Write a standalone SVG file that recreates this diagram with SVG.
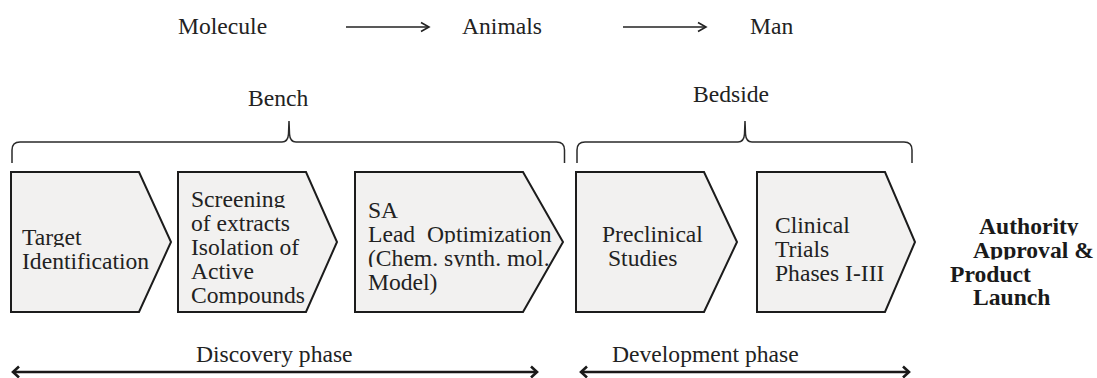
<svg xmlns="http://www.w3.org/2000/svg" width="1097" height="378" viewBox="0 0 1097 378">
<style>
.lbl{font-family:"Liberation Serif","Times New Roman",serif;font-size:23.6px;fill:#222}
.bt{font-family:"Liberation Serif","Times New Roman",serif;font-size:23.6px;fill:#222}
.bb{font-family:"Liberation Serif","Times New Roman",serif;font-size:23.6px;font-weight:bold;fill:#1a1a1a}
.box{fill:#f2f1f0;stroke:#1c1c1c;stroke-width:2;stroke-linejoin:miter}
.brace{fill:none;stroke:#2a2a2a;stroke-width:1.5}
.thin{fill:none;stroke:#222;stroke-width:1.6}
.thick{fill:none;stroke:#1a1a1a;stroke-width:2.6}
</style>
<defs>
<marker id="ah" markerUnits="userSpaceOnUse" markerWidth="14" markerHeight="14" refX="11" refY="7" orient="auto-start-reverse">
<path d="M3,2.5 L11,7 L3,11.5" fill="none" stroke="#222" stroke-width="1.6"/>
</marker>
<marker id="ahb" markerUnits="userSpaceOnUse" markerWidth="14" markerHeight="16" refX="10" refY="8" orient="auto-start-reverse">
<path d="M4,2.5 L10,8 L4,13.5" fill="none" stroke="#1a1a1a" stroke-width="2.6"/>
</marker>
<clipPath id="cTarget"><rect x="0" y="220" width="200" height="27"/></clipPath>
<clipPath id="cScr"><rect x="170" y="180" width="200" height="28"/></clipPath>
<clipPath id="cComp"><rect x="170" y="280" width="200" height="24.5"/></clipPath>
<clipPath id="cLead"><rect x="350" y="220" width="220" height="23.5"/></clipPath>
<clipPath id="cChem"><rect x="350" y="245" width="220" height="22"/></clipPath>
<clipPath id="cAuth"><rect x="940" y="210" width="157" height="25.5"/></clipPath>
<clipPath id="cAppr"><rect x="940" y="238" width="157" height="21.5"/></clipPath>
</defs>

<g id="top-row">
<text class="lbl" x="178" y="34">Molecule</text>
<text class="lbl" x="462" y="34">Animals</text>
<text class="lbl" x="750" y="34">Man</text>
</g>

<g id="braces">
<text class="lbl" x="248" y="106">Bench</text>
<path class="brace" d="M12,163 V150 Q12,142 20,142 H282 Q288,142 288.5,134 L289,121 L289.5,134 Q290,142 296,142 H556.5 Q564.5,142 564.5,150 V163"/>
<text class="lbl" x="693" y="102">Bedside</text>
<path class="brace" d="M577,163 V150 Q577,142 585,142 H738 Q744,142 744.5,134 L745,121 L745.5,134 Q746,142 752,142 H904 Q912,142 912,150 V163"/>
</g>

<g id="node-target">
<polygon class="box" points="11,172 139,172 171,242 139,312 11,312"/>
<g clip-path="url(#cTarget)"><text class="bt" x="22" y="245">Target</text></g>
<text class="bt" x="22" y="269">Identification</text>
</g>

<g id="node-screening">
<polygon class="box" points="178,172 306,172 337,242 306,312 178,312"/>
<g clip-path="url(#cScr)"><text class="bt" x="191" y="207">Screening</text></g>
<text class="bt" x="191" y="231">of extracts</text>
<text class="bt" x="191" y="255">Isolation of</text>
<text class="bt" x="191" y="279">Active</text>
<g clip-path="url(#cComp)"><text class="bt" x="191" y="303">Compounds</text></g>
</g>

<g id="node-lead">
<polygon class="box" points="355,172 523,172 563,242 523,312 355,312"/>
<text class="bt" x="368" y="218">SA</text>
<g clip-path="url(#cLead)"><text class="bt" x="368" y="242">Lead <tspan dx="6">Optimization</tspan></text></g>
<g clip-path="url(#cChem)"><text class="bt" x="368" y="266">(Chem. synth. mol.</text></g>
<text class="bt" x="368" y="290">Model)</text>
</g>

<g id="node-preclinical">
<polygon class="box" points="576,172 704,172 737,242 704,312 576,312"/>
<text class="bt" x="602" y="242">Preclinical</text>
<text class="bt" x="608" y="266">Studies</text>
</g>

<g id="node-clinical">
<polygon class="box" points="757,172 885,172 915,242 885,312 757,312"/>
<text class="bt" x="775" y="233">Clinical</text>
<text class="bt" x="775" y="257">Trials</text>
<text class="bt" x="775" y="281">Phases I-III</text>
</g>

<g id="node-approval">
<g clip-path="url(#cAuth)"><text class="bb" x="979" y="234">Authority</text></g>
<g clip-path="url(#cAppr)"><text class="bb" x="973" y="258">Approval &amp;</text></g>
<text class="bb" x="950" y="282">Product</text>
<text class="bb" x="973" y="305">Launch</text>
</g>

<g id="connectors">
<line class="thin" x1="346" y1="27" x2="429" y2="27" marker-end="url(#ah)"/>
<line class="thin" x1="623" y1="27" x2="706" y2="27" marker-end="url(#ah)"/>
<line class="thick" x1="13" y1="372" x2="537" y2="372" marker-start="url(#ahb)" marker-end="url(#ahb)"/>
<line class="thick" x1="581" y1="372" x2="909" y2="372" marker-start="url(#ahb)" marker-end="url(#ahb)"/>
</g>

<g id="phases">
<text class="lbl" x="196" y="362">Discovery phase</text>
<text class="lbl" x="612" y="362">Development phase</text>
</g>
</svg>
